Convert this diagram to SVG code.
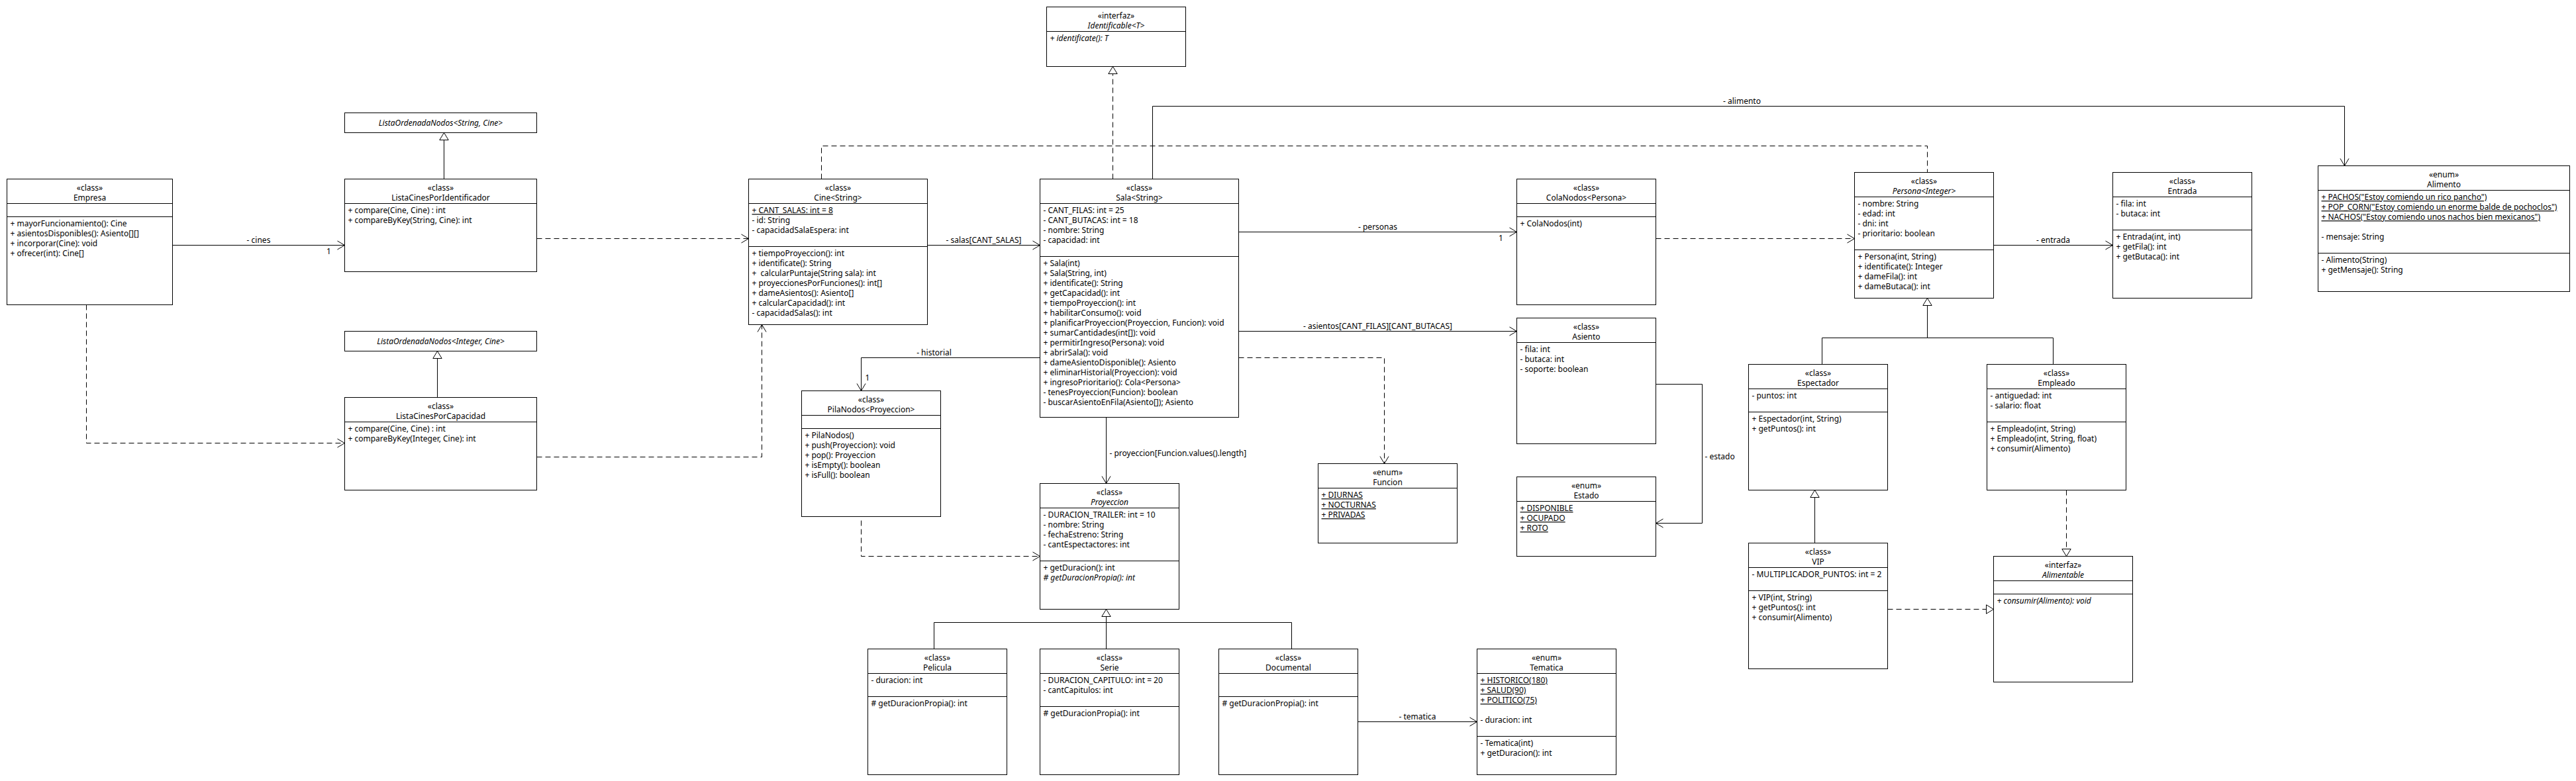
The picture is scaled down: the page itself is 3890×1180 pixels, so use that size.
<svg xmlns="http://www.w3.org/2000/svg" width="3890" height="1180" viewBox="0 0 3890 1180">
<style>
.box{fill:#fff;stroke:#000;stroke-width:1}
.sep{stroke:#000;stroke-width:1;fill:none}
text{font-family:"Noto Sans","Open Sans",sans-serif;font-size:12px;fill:#000}
.c{text-anchor:middle}
.i{font-style:italic}
.u{text-decoration:underline}
.edge{fill:none;stroke:#000;stroke-width:1}
.dash{stroke-dasharray:8 5}
</style>
<defs>
<marker id="open" markerUnits="userSpaceOnUse" markerWidth="14" markerHeight="16" refX="12" refY="7.5" orient="auto">
<path d="M1,1 L12,7.5 L1,14" fill="none" stroke="#000" stroke-width="1" stroke-dasharray="none"/>
</marker>
<marker id="tri" markerUnits="userSpaceOnUse" markerWidth="14" markerHeight="16" refX="12" refY="7.5" orient="auto">
<path d="M1,0.8 L12,7.5 L1,14.2 Z" fill="#fff" stroke="#000" stroke-width="1" stroke-dasharray="none"/>
</marker>
</defs>
<rect x="0" y="0" width="3890" height="1180" fill="#fff"/>
<g transform="translate(0.5,0.5)">
<g id="connectors">
<path class="edge" d="M260,370 H520" marker-end="url(#open)"/>
<text x="390" y="366" class="c">- cines</text>
<text x="496" y="383" class="c">1</text>
<path class="edge dash" d="M130,460 V669 H520" marker-end="url(#open)"/>
<path class="edge" d="M670,270 V200" marker-end="url(#tri)"/>
<path class="edge" d="M660,600 V530" marker-end="url(#tri)"/>
<path class="edge dash" d="M810,360 H1130" marker-end="url(#open)"/>
<path class="edge dash" d="M810,690 H1150 V490" marker-end="url(#open)"/>
<path class="edge" d="M1400,370 H1570" marker-end="url(#open)"/>
<text x="1485" y="366" class="c">- salas[CANT_SALAS]</text>
<path class="edge dash" d="M1680,270 V100" marker-end="url(#tri)"/>
<path class="edge dash" d="M1240,270 V220 H2910 V260"/>
<path class="edge" d="M1740,270 V160 H3540 V250" marker-end="url(#open)"/>
<text x="2630" y="156" class="c">- alimento</text>
<path class="edge" d="M1870,350 H2290" marker-end="url(#open)"/>
<text x="2080" y="346.6" class="c">- personas</text>
<text x="2266" y="363" class="c">1</text>
<path class="edge" d="M1870,500 H2290" marker-end="url(#open)"/>
<text x="2080" y="496" class="c">- asientos[CANT_FILAS][CANT_BUTACAS]</text>
<path class="edge dash" d="M1870,540 H2090 V700" marker-end="url(#open)"/>
<path class="edge" d="M1570,540 H1300 V590" marker-end="url(#open)"/>
<text x="1410" y="536.3" class="c">- historial</text>
<text x="1306" y="574">1</text>
<path class="edge" d="M1670,630 V730" marker-end="url(#open)"/>
<text x="1675" y="688.6">- proyeccion[Funcion.values().length]</text>
<path class="edge dash" d="M1300,786 V840 H1570" marker-end="url(#open)"/>
<path class="edge" d="M1410,980 V940 H1670 V920" marker-end="url(#tri)"/>
<path class="edge" d="M1950,980 V940 H1670"/>
<path class="edge" d="M1670,980 V940"/>
<path class="edge" d="M2050,1090 H2230" marker-end="url(#open)"/>
<text x="2140" y="1086" class="c">- tematica</text>
<path class="edge" d="M2500,580 H2570 V790 H2500" marker-end="url(#open)"/>
<text x="2574" y="693.6">- estado</text>
<path class="edge dash" d="M2500,360 H2800" marker-end="url(#open)"/>
<path class="edge" d="M3010,370 H3190" marker-end="url(#open)"/>
<text x="3100" y="366.6" class="c">- entrada</text>
<path class="edge" d="M2751,550 V510 H2910 V450" marker-end="url(#tri)"/>
<path class="edge" d="M3100,550 V510 H2910"/>
<path class="edge" d="M2740,820 V740" marker-end="url(#tri)"/>
<path class="edge dash" d="M3120,740 V840" marker-end="url(#tri)"/>
<path class="edge dash" d="M2850,920 H3010" marker-end="url(#tri)"/>
</g>

<g id="Empresa">
<rect class="box" x="10" y="270" width="250" height="190"/>
<path class="sep" d="M10,307 H260 M10,327 H260"/>
<text x="135" y="287.3" class="c">«class»</text>
<text x="135" y="302" class="c">Empresa</text>
<text x="15" y="341.7">+ mayorFuncionamiento(): Cine</text>
<text x="15" y="356.7">+ asientosDisponibles(): Asiento[][]</text>
<text x="15" y="371.7">+ incorporar(Cine): void</text>
<text x="15" y="386.7">+ ofrecer(int): Cine[]</text>
</g>

<g id="ListaOrdenadaNodosString">
<rect class="box" x="520" y="170" width="290" height="30"/>
<text x="665" y="189.3" class="c i">ListaOrdenadaNodos&lt;String, Cine&gt;</text>
</g>

<g id="ListaCinesPorIdentificador">
<rect class="box" x="520" y="270" width="290" height="140"/>
<path class="sep" d="M520,307 H810"/>
<text x="665" y="287.3" class="c">«class»</text>
<text x="665" y="302" class="c">ListaCinesPorIdentificador</text>
<text x="525" y="321.7">+ compare(Cine, Cine) : int</text>
<text x="525" y="336.7">+ compareByKey(String, Cine): int</text>
</g>

<g id="ListaOrdenadaNodosInteger">
<rect class="box" x="520" y="500" width="290" height="30"/>
<text x="665" y="519.3" class="c i">ListaOrdenadaNodos&lt;Integer, Cine&gt;</text>
</g>

<g id="ListaCinesPorCapacidad">
<rect class="box" x="520" y="600" width="290" height="140"/>
<path class="sep" d="M520,637 H810"/>
<text x="665" y="617.3" class="c">«class»</text>
<text x="665" y="632" class="c">ListaCinesPorCapacidad</text>
<text x="525" y="651.7">+ compare(Cine, Cine) : int</text>
<text x="525" y="666.7">+ compareByKey(Integer, Cine): int</text>
</g>

<g id="Identificable">
<rect class="box" x="1580" y="10" width="210" height="90"/>
<path class="sep" d="M1580,47 H1790"/>
<text x="1685" y="27.3" class="c">«interfaz»</text>
<text x="1685" y="42" class="c i">Identificable&lt;T&gt;</text>
<text x="1585" y="61.7" class="i">+ identificate(): T</text>
</g>

<g id="Cine">
<rect class="box" x="1130" y="270" width="270" height="220"/>
<path class="sep" d="M1130,307 H1400 M1130,372 H1400"/>
<text x="1265" y="287.3" class="c">«class»</text>
<text x="1265" y="302" class="c">Cine&lt;String&gt;</text>
<text x="1135" y="321.7" class="u">+ CANT_SALAS: int = 8</text>
<text x="1135" y="336.7">- id: String</text>
<text x="1135" y="351.7">- capacidadSalaEspera: int</text>
<text x="1135" y="386.7">+ tiempoProyeccion(): int</text>
<text x="1135" y="401.7">+ identificate(): String</text>
<text x="1135" y="416.7">+&#160; calcularPuntaje(String sala): int</text>
<text x="1135" y="431.7">+ proyeccionesPorFunciones(): int[]</text>
<text x="1135" y="446.7">+ dameAsientos(): Asiento[]</text>
<text x="1135" y="461.7">+ calcularCapacidad(): int</text>
<text x="1135" y="476.7">- capacidadSalas(): int</text>
</g>

<g id="Sala">
<rect class="box" x="1570" y="270" width="300" height="360"/>
<path class="sep" d="M1570,307 H1870 M1570,387 H1870"/>
<text x="1720" y="287.3" class="c">«class»</text>
<text x="1720" y="302" class="c">Sala&lt;String&gt;</text>
<text x="1575" y="321.7">- CANT_FILAS: int = 25</text>
<text x="1575" y="336.7">- CANT_BUTACAS: int = 18</text>
<text x="1575" y="351.7">- nombre: String</text>
<text x="1575" y="366.7">- capacidad: int</text>
<text x="1575" y="401.7">+ Sala(int)</text>
<text x="1575" y="416.7">+ Sala(String, int)</text>
<text x="1575" y="431.7">+ identificate(): String</text>
<text x="1575" y="446.7">+ getCapacidad(): int</text>
<text x="1575" y="461.7">+ tiempoProyeccion(): int</text>
<text x="1575" y="476.7">+ habilitarConsumo(): void</text>
<text x="1575" y="491.7">+ planificarProyeccion(Proyeccion, Funcion): void</text>
<text x="1575" y="506.7">+ sumarCantidades(int[]): void</text>
<text x="1575" y="521.7">+ permitirIngreso(Persona): void</text>
<text x="1575" y="536.7">+ abrirSala(): void</text>
<text x="1575" y="551.7">+ dameAsientoDisponible(): Asiento</text>
<text x="1575" y="566.7">+ eliminarHistorial(Proyeccion): void</text>
<text x="1575" y="581.7">+ ingresoPrioritario(): Cola&lt;Persona&gt;</text>
<text x="1575" y="596.7">- tenesProyeccion(Funcion): boolean</text>
<text x="1575" y="611.7">- buscarAsientoEnFila(Asiento[]); Asiento</text>
</g>

<g id="ColaNodos">
<rect class="box" x="2290" y="270" width="210" height="190"/>
<path class="sep" d="M2290,307 H2500 M2290,327 H2500"/>
<text x="2395" y="287.3" class="c">«class»</text>
<text x="2395" y="302" class="c">ColaNodos&lt;Persona&gt;</text>
<text x="2295" y="341.7">+ ColaNodos(int)</text>
</g>

<g id="Asiento">
<rect class="box" x="2290" y="480" width="210" height="190"/>
<path class="sep" d="M2290,517 H2500"/>
<text x="2395" y="497.3" class="c">«class»</text>
<text x="2395" y="512" class="c">Asiento</text>
<text x="2295" y="531.7">- fila: int</text>
<text x="2295" y="546.7">- butaca: int</text>
<text x="2295" y="561.7">- soporte: boolean</text>
</g>

<g id="Estado">
<rect class="box" x="2290" y="720" width="210" height="120"/>
<path class="sep" d="M2290,757 H2500"/>
<text x="2395" y="737.3" class="c">«enum»</text>
<text x="2395" y="752" class="c">Estado</text>
<text x="2295" y="771.7" class="u">+ DISPONIBLE</text>
<text x="2295" y="786.7" class="u">+ OCUPADO</text>
<text x="2295" y="801.7" class="u">+ ROTO</text>
</g>

<g id="Persona">
<rect class="box" x="2800" y="260" width="210" height="190"/>
<path class="sep" d="M2800,297 H3010 M2800,377 H3010"/>
<text x="2905" y="277.3" class="c">«class»</text>
<text x="2905" y="292" class="c i">Persona&lt;Integer&gt;</text>
<text x="2805" y="311.7">- nombre: String</text>
<text x="2805" y="326.7">- edad: int</text>
<text x="2805" y="341.7">- dni: int</text>
<text x="2805" y="356.7">- prioritario: boolean</text>
<text x="2805" y="391.7">+ Persona(int, String)</text>
<text x="2805" y="406.7">+ identificate(): Integer</text>
<text x="2805" y="421.7">+ dameFila(): int</text>
<text x="2805" y="436.7">+ dameButaca(): int</text>
</g>

<g id="Entrada">
<rect class="box" x="3190" y="260" width="210" height="190"/>
<path class="sep" d="M3190,297 H3400 M3190,347 H3400"/>
<text x="3295" y="277.3" class="c">«class»</text>
<text x="3295" y="292" class="c">Entrada</text>
<text x="3195" y="311.7">- fila: int</text>
<text x="3195" y="326.7">- butaca: int</text>
<text x="3195" y="361.7">+ Entrada(int, int)</text>
<text x="3195" y="376.7">+ getFila(): int</text>
<text x="3195" y="391.7">+ getButaca(): int</text>
</g>

<g id="Alimento">
<rect class="box" x="3500" y="250" width="380" height="190"/>
<path class="sep" d="M3500,287 H3880 M3500,382 H3880"/>
<text x="3690" y="267.3" class="c">«enum»</text>
<text x="3690" y="282" class="c">Alimento</text>
<text x="3505" y="301.7" class="u">+ PACHOS("Estoy comiendo un rico pancho")</text>
<text x="3505" y="316.7" class="u">+ POP_CORN("Estoy comiendo un enorme balde de pochoclos")</text>
<text x="3505" y="331.7" class="u">+ NACHOS("Estoy comiendo unos nachos bien mexicanos")</text>
<text x="3505" y="361.7">- mensaje: String</text>
<text x="3505" y="396.7">- Alimento(String)</text>
<text x="3505" y="411.7">+ getMensaje(): String</text>
</g>

<g id="Espectador">
<rect class="box" x="2640" y="550" width="210" height="190"/>
<path class="sep" d="M2640,587 H2850 M2640,622 H2850"/>
<text x="2745" y="567.3" class="c">«class»</text>
<text x="2745" y="582" class="c">Espectador</text>
<text x="2645" y="601.7">- puntos: int</text>
<text x="2645" y="636.7">+ Espectador(int, String)</text>
<text x="2645" y="651.7">+ getPuntos(): int</text>
</g>

<g id="Empleado">
<rect class="box" x="3000" y="550" width="210" height="190"/>
<path class="sep" d="M3000,587 H3210 M3000,637 H3210"/>
<text x="3105" y="567.3" class="c">«class»</text>
<text x="3105" y="582" class="c">Empleado</text>
<text x="3005" y="601.7">- antiguedad: int</text>
<text x="3005" y="616.7">- salario: float</text>
<text x="3005" y="651.7">+ Empleado(int, String)</text>
<text x="3005" y="666.7">+ Empleado(int, String, float)</text>
<text x="3005" y="681.7">+ consumir(Alimento)</text>
</g>

<g id="VIP">
<rect class="box" x="2640" y="820" width="210" height="190"/>
<path class="sep" d="M2640,857 H2850 M2640,892 H2850"/>
<text x="2745" y="837.3" class="c">«class»</text>
<text x="2745" y="852" class="c">VIP</text>
<text x="2645" y="871.7">- MULTIPLICADOR_PUNTOS: int = 2</text>
<text x="2645" y="906.7">+ VIP(int, String)</text>
<text x="2645" y="921.7">+ getPuntos(): int</text>
<text x="2645" y="936.7">+ consumir(Alimento)</text>
</g>

<g id="Alimentable">
<rect class="box" x="3010" y="840" width="210" height="190"/>
<path class="sep" d="M3010,877 H3220 M3010,897 H3220"/>
<text x="3115" y="857.3" class="c">«interfaz»</text>
<text x="3115" y="872" class="c i">Alimentable</text>
<text x="3015" y="911.7" class="i">+ consumir(Alimento): void</text>
</g>

<g id="PilaNodos">
<rect class="box" x="1210" y="590" width="210" height="190"/>
<path class="sep" d="M1210,627 H1420 M1210,647 H1420"/>
<text x="1315" y="607.3" class="c">«class»</text>
<text x="1315" y="622" class="c">PilaNodos&lt;Proyeccion&gt;</text>
<text x="1215" y="661.7">+ PilaNodos()</text>
<text x="1215" y="676.7">+ push(Proyeccion): void</text>
<text x="1215" y="691.7">+ pop(): Proyeccion</text>
<text x="1215" y="706.7">+ isEmpty(): boolean</text>
<text x="1215" y="721.7">+ isFull(): boolean</text>
</g>

<g id="Funcion">
<rect class="box" x="1990" y="700" width="210" height="120"/>
<path class="sep" d="M1990,737 H2200"/>
<text x="2095" y="717.3" class="c">«enum»</text>
<text x="2095" y="732" class="c">Funcion</text>
<text x="1995" y="751.7" class="u">+ DIURNAS</text>
<text x="1995" y="766.7" class="u">+ NOCTURNAS</text>
<text x="1995" y="781.7" class="u">+ PRIVADAS</text>
</g>

<g id="Proyeccion">
<rect class="box" x="1570" y="730" width="210" height="190"/>
<path class="sep" d="M1570,767 H1780 M1570,847 H1780"/>
<text x="1675" y="747.3" class="c">«class»</text>
<text x="1675" y="762" class="c i">Proyeccion</text>
<text x="1575" y="781.7">- DURACION_TRAILER: int = 10</text>
<text x="1575" y="796.7">- nombre: String</text>
<text x="1575" y="811.7">- fechaEstreno: String</text>
<text x="1575" y="826.7">- cantEspectactores: int</text>
<text x="1575" y="861.7">+ getDuracion(): int</text>
<text x="1575" y="876.7" class="i"># getDuracionPropia(): int</text>
</g>

<g id="Pelicula">
<rect class="box" x="1310" y="980" width="210" height="190"/>
<path class="sep" d="M1310,1017 H1520 M1310,1052 H1520"/>
<text x="1415" y="997.3" class="c">«class»</text>
<text x="1415" y="1012" class="c">Pelicula</text>
<text x="1315" y="1031.7">- duracion: int</text>
<text x="1315" y="1066.7"># getDuracionPropia(): int</text>
</g>

<g id="Serie">
<rect class="box" x="1570" y="980" width="210" height="190"/>
<path class="sep" d="M1570,1017 H1780 M1570,1067 H1780"/>
<text x="1675" y="997.3" class="c">«class»</text>
<text x="1675" y="1012" class="c">Serie</text>
<text x="1575" y="1031.7">- DURACION_CAPITULO: int = 20</text>
<text x="1575" y="1046.7">- cantCapitulos: int</text>
<text x="1575" y="1081.7"># getDuracionPropia(): int</text>
</g>

<g id="Documental">
<rect class="box" x="1840" y="980" width="210" height="190"/>
<path class="sep" d="M1840,1017 H2050 M1840,1052 H2050"/>
<text x="1945" y="997.3" class="c">«class»</text>
<text x="1945" y="1012" class="c">Documental</text>
<text x="1845" y="1066.7"># getDuracionPropia(): int</text>
</g>

<g id="Tematica">
<rect class="box" x="2230" y="980" width="210" height="190"/>
<path class="sep" d="M2230,1017 H2440 M2230,1112 H2440"/>
<text x="2335" y="997.3" class="c">«enum»</text>
<text x="2335" y="1012" class="c">Tematica</text>
<text x="2235" y="1031.7" class="u">+ HISTORICO(180)</text>
<text x="2235" y="1046.7" class="u">+ SALUD(90)</text>
<text x="2235" y="1061.7" class="u">+ POLITICO(75)</text>
<text x="2235" y="1091.7">- duracion: int</text>
<text x="2235" y="1126.7">- Tematica(int)</text>
<text x="2235" y="1141.7">+ getDuracion(): int</text>
</g>
</g>
</svg>
